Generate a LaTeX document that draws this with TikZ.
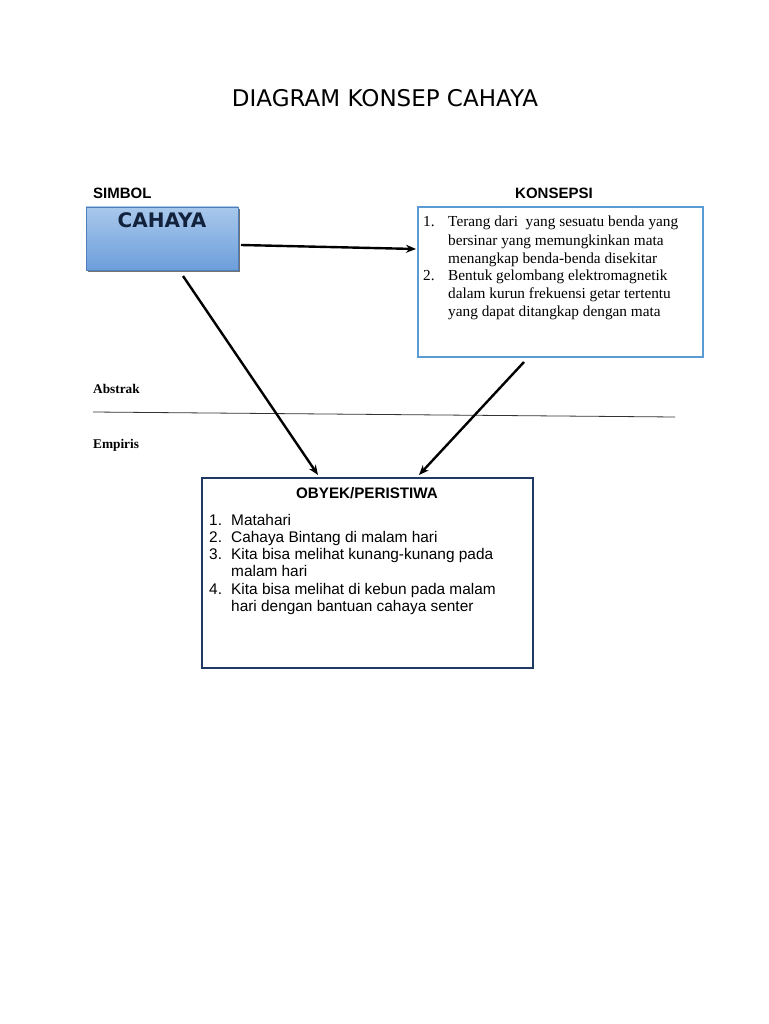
\documentclass[tikz,border=0pt]{standalone}
\usepackage{fontspec}
\setmainfont{Liberation Serif}
\setsansfont{Liberation Sans}
\newfontfamily\dejavu{DejaVu Sans}
\usetikzlibrary{arrows.meta}
\definecolor{boxblue}{HTML}{5B9BD5}
\definecolor{navy}{HTML}{1F3864}
\definecolor{topblue}{HTML}{A9C8EC}
\definecolor{botblue}{HTML}{6C9EDB}
\definecolor{edgeblue}{HTML}{4F7EBB}
\tikzset{
  conn/.style={line width=2.4pt,-{Stealth[length=10pt,width=8pt]}},
  serifline/.style={anchor=base west,inner sep=0pt,font=\fontsize{15.3}{17}\selectfont},
  sansline/.style={anchor=base west,inner sep=0pt,font=\sffamily\fontsize{15.4}{17}\selectfont},
  heading/.style={anchor=base west,inner sep=0pt,font=\sffamily\bfseries\fontsize{15}{17}\selectfont},
  sidelabel/.style={anchor=base west,inner sep=0pt,font=\bfseries\fontsize{13.3}{15}\selectfont}
}
\begin{document}
\begin{tikzpicture}[x=1pt,y=-1pt]
\useasboundingbox (0,0) rectangle (768,1024);
\fill[white] (0,0) rectangle (768,1024);
% title
\node[anchor=base,inner sep=0pt,font=\dejavu\fontsize{23}{26}\selectfont] (title) at (385,107) {DIAGRAM KONSEP CAHAYA};
% headings
\node[heading] (simbol) at (93,199) {SIMBOL};
\node[heading] (konsepsihead) at (515,199) {KONSEPSI};
% CAHAYA box
\fill[black!55] (88,209) rectangle (240,272);
\shade[top color=topblue,bottom color=botblue,draw=edgeblue,line width=0.8pt] (86,207) rectangle (238,270);
\node[anchor=base,inner sep=0pt,font=\dejavu\bfseries\fontsize{20}{22}\selectfont,text=navy!60!black] (cahaya) at (162,228) {CAHAYA};
% Konsepsi box
\draw[boxblue,line width=2.6pt,fill=white] (418,207) rectangle (703,357);
\node[serifline] (k1n) at (423,226) {1.};
\node[serifline] (k1a) at (448,226) {Terang dari\ \ yang sesuatu benda yang};
\node[serifline] (k1b) at (448,245) {bersinar yang memungkinkan mata};
\node[serifline] (k1c) at (448,263) {menangkap benda-benda disekitar};
\node[serifline] (k2n) at (423,280) {2.};
\node[serifline] (k2a) at (448,280) {Bentuk gelombang elektromagnetik};
\node[serifline] (k2b) at (448,298) {dalam kurun frekuensi getar tertentu};
\node[serifline] (k2c) at (448,316) {yang dapat ditangkap dengan mata};
% Abstrak / Empiris
\node[sidelabel] (abstrak) at (93,393) {Abstrak};
\node[sidelabel] (empiris) at (93,448) {Empiris};
\coordinate (lineL) at (93,412);
\coordinate (lineR) at (675,417);
\draw[line width=0.8pt,black!80] (lineL) -- (lineR);
% Obyek box
\draw[navy,line width=2.6pt,fill=white] (202,478) rectangle (533,668);
\node[anchor=base,inner sep=0pt,font=\sffamily\bfseries\fontsize{15.2}{17}\selectfont] (obyek) at (367,498) {OBYEK/PERISTIWA};
\node[sansline] (o1n) at (209,525) {1.};
\node[sansline] (o1a) at (231,525) {Matahari};
\node[sansline] (o2n) at (209,542) {2.};
\node[sansline] (o2a) at (231,542) {Cahaya Bintang di malam hari};
\node[sansline] (o3n) at (209,559) {3.};
\node[sansline] (o3a) at (231,559) {Kita bisa melihat kunang-kunang pada};
\node[sansline] (o3b) at (231,576) {malam hari};
\node[sansline] (o4n) at (209,594) {4.};
\node[sansline] (o4a) at (231,594) {Kita bisa melihat di kebun pada malam};
\node[sansline] (o4b) at (231,611) {hari dengan bantuan cahaya senter};
% arrows
\coordinate (a1s) at (241,245);
\coordinate (a1e) at (416,249);
\coordinate (a2s) at (183,276);
\coordinate (a2e) at (318,475);
\coordinate (a3s) at (524,362);
\coordinate (a3e) at (419,475);
\draw[conn] (a1s) -- (a1e);
\draw[conn] (a2s) -- (a2e);
\draw[conn] (a3s) -- (a3e);
\end{tikzpicture}
\end{document}
